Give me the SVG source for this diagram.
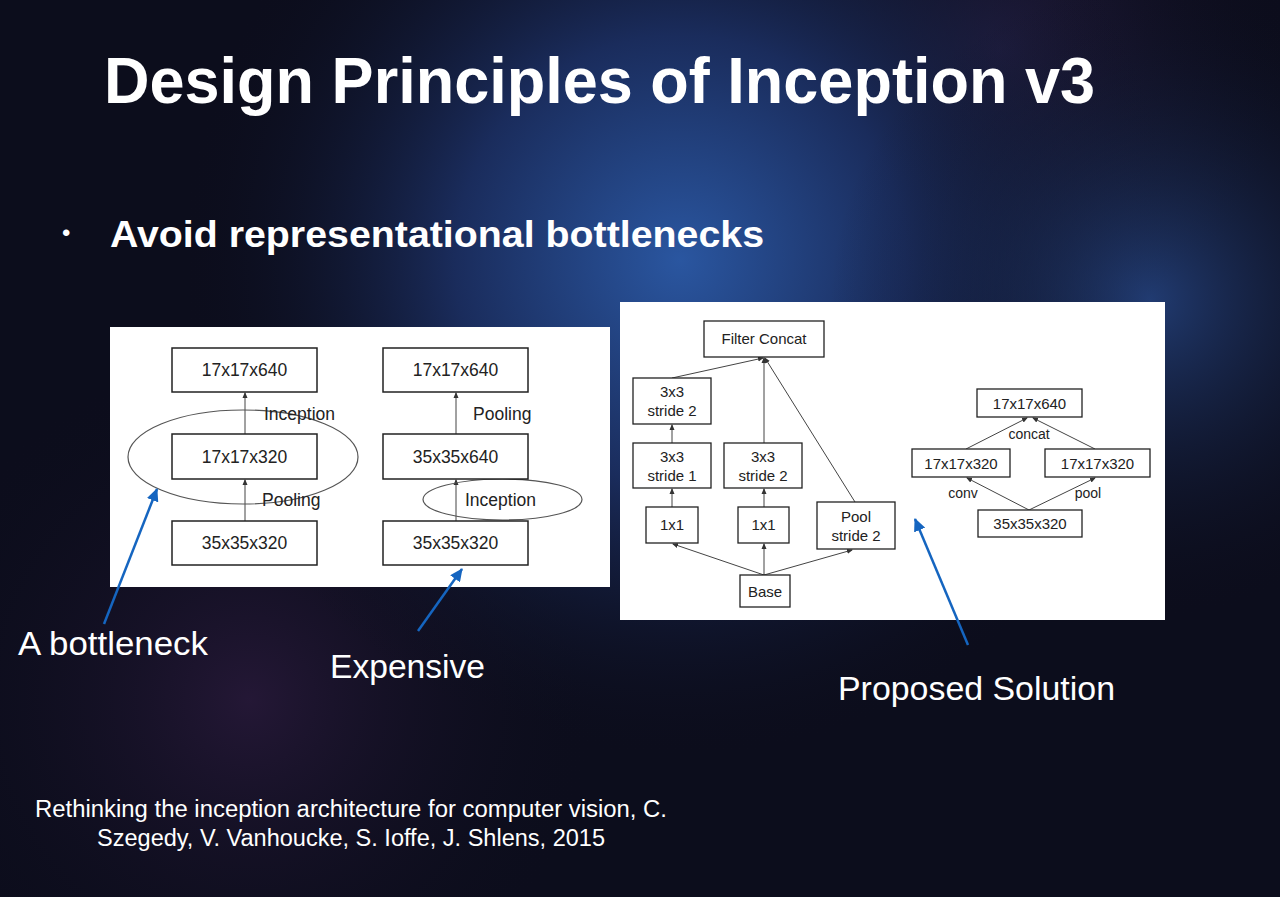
<svg xmlns="http://www.w3.org/2000/svg" width="1280" height="897" viewBox="0 0 1280 897">
<defs>
<radialGradient id="g1" cx="680" cy="260" r="500" gradientUnits="userSpaceOnUse">
<stop offset="0" stop-color="#2a56a0"/>
<stop offset="0.45" stop-color="#1a2c5c"/>
<stop offset="1" stop-color="#0c0d1c" stop-opacity="0"/>
</radialGradient>
<radialGradient id="g2" cx="1150" cy="300" r="320" gradientUnits="userSpaceOnUse">
<stop offset="0" stop-color="#2a4f96" stop-opacity="0.7"/>
<stop offset="1" stop-color="#0c0d1c" stop-opacity="0"/>
</radialGradient>
<radialGradient id="g3" cx="250" cy="700" r="350" gradientUnits="userSpaceOnUse">
<stop offset="0" stop-color="#2a1a3c" stop-opacity="0.8"/>
<stop offset="1" stop-color="#0c0d1c" stop-opacity="0"/>
</radialGradient>
<radialGradient id="g4" cx="1000" cy="50" r="300" gradientUnits="userSpaceOnUse">
<stop offset="0" stop-color="#2e2450" stop-opacity="0.7"/>
<stop offset="1" stop-color="#0c0d1c" stop-opacity="0"/>
</radialGradient>
<marker id="ah" markerWidth="6" markerHeight="6" refX="5" refY="3" orient="auto" markerUnits="userSpaceOnUse">
<path d="M0,0.5 L6,3 L0,5.5 z" fill="#333"/>
</marker>
<marker id="bh" markerWidth="14" markerHeight="12" refX="12" refY="6" orient="auto" markerUnits="userSpaceOnUse">
<path d="M0,0 L13,6 L0,12 z" fill="#1565c0"/>
</marker>
<style>
.box{fill:#fff;stroke:#222;stroke-width:1.5}
.sbox{fill:#fff;stroke:#222;stroke-width:1.3}
.t{font-family:"Liberation Sans",Arial,sans-serif;fill:#222;text-anchor:middle}
.s{text-anchor:start}
.big{font-size:17.5px}
.sm{font-size:15px}
.xs{font-size:14px}
.ln{stroke:#444;stroke-width:1;fill:none;marker-end:url(#ah)}
.ell{fill:none;stroke:#555;stroke-width:1.2}
.blue{stroke:#1565c0;stroke-width:2.5;fill:none;marker-end:url(#bh)}
.w{font-family:"Liberation Sans",Arial,sans-serif;fill:#fff}
</style>
</defs>
<rect width="1280" height="897" fill="#0c0d1c"/>
<rect width="1280" height="897" fill="url(#g3)"/>
<rect width="1280" height="897" fill="url(#g4)"/>
<rect width="1280" height="897" fill="url(#g1)"/>
<rect width="1280" height="897" fill="url(#g2)"/>

<text class="w" x="104" y="103" font-size="64" font-weight="bold" textLength="991" lengthAdjust="spacingAndGlyphs">Design Principles of Inception v3</text>
<text class="w" x="62" y="241" font-size="24">•</text>
<text class="w" x="110" y="247" font-size="37" font-weight="bold" textLength="654" lengthAdjust="spacingAndGlyphs">Avoid representational bottlenecks</text>

<rect x="110" y="327" width="500" height="260" fill="#fff"/>
<rect x="620" y="302" width="545" height="318" fill="#fff"/>

<g id="connectors">
<line class="ln" x1="245" y1="521" x2="245" y2="480"/>
<line class="ln" x1="245" y1="434" x2="245" y2="393"/>
<line class="ln" x1="456" y1="521" x2="456" y2="480"/>
<line class="ln" x1="456" y1="434" x2="456" y2="393"/>
<ellipse class="ell" cx="243" cy="457" rx="115" ry="47"/>
<ellipse class="ell" cx="502.5" cy="499.5" rx="79.5" ry="20.5"/>
<line class="ln" x1="764" y1="575" x2="673" y2="544"/>
<line class="ln" x1="764" y1="575" x2="764" y2="544"/>
<line class="ln" x1="764" y1="575" x2="852" y2="550"/>
<line class="ln" x1="672" y1="507" x2="672" y2="489"/>
<line class="ln" x1="672" y1="443" x2="672" y2="425"/>
<line class="ln" x1="764" y1="507" x2="764" y2="489"/>
<line class="ln" x1="672" y1="378" x2="763" y2="358"/>
<line class="ln" x1="764" y1="443" x2="764" y2="358"/>
<line class="ln" x1="855" y1="502" x2="765" y2="358"/>
<line class="ln" x1="1029" y1="510" x2="967" y2="478"/>
<line class="ln" x1="1029" y1="510" x2="1095" y2="478"/>
<line class="ln" x1="966" y1="449" x2="1027" y2="418"/>
<line class="ln" x1="1095" y1="449" x2="1033" y2="418"/>
<line class="blue" x1="104" y1="624" x2="157" y2="489"/>
<line class="blue" x1="418" y1="631" x2="462" y2="569"/>
<line class="blue" x1="968" y1="645" x2="915" y2="519"/>
</g>

<text class="t big s" x="264" y="420">Inception</text>
<text class="t big s" x="262" y="506">Pooling</text>
<text class="t big s" x="473" y="420">Pooling</text>
<text class="t big s" x="465" y="506">Inception</text>

<g id="n-l-top"><rect class="box" x="172" y="348" width="145" height="44"/><text class="t big" x="244.5" y="376">17x17x640</text></g>
<g id="n-l-mid"><rect class="box" x="172" y="434" width="145" height="45"/><text class="t big" x="244.5" y="463">17x17x320</text></g>
<g id="n-l-bot"><rect class="box" x="172" y="521" width="145" height="44"/><text class="t big" x="244.5" y="549">35x35x320</text></g>
<g id="n-r-top"><rect class="box" x="383" y="348" width="145" height="44"/><text class="t big" x="455.5" y="376">17x17x640</text></g>
<g id="n-r-mid"><rect class="box" x="383" y="434" width="145" height="45"/><text class="t big" x="455.5" y="463">35x35x640</text></g>
<g id="n-r-bot"><rect class="box" x="383" y="521" width="145" height="44"/><text class="t big" x="455.5" y="549">35x35x320</text></g>

<g id="n-concat"><rect class="sbox" x="704" y="321" width="120" height="36"/><text class="t sm" x="764" y="344">Filter Concat</text></g>
<g id="n-3s2a"><rect class="sbox" x="633" y="378" width="78" height="46"/><text class="t sm" x="672" y="397">3x3</text><text class="t sm" x="672" y="416">stride 2</text></g>
<g id="n-3s1"><rect class="sbox" x="633" y="443" width="78" height="45"/><text class="t sm" x="672" y="462">3x3</text><text class="t sm" x="672" y="481">stride 1</text></g>
<g id="n-3s2b"><rect class="sbox" x="724" y="443" width="78" height="45"/><text class="t sm" x="763" y="462">3x3</text><text class="t sm" x="763" y="481">stride 2</text></g>
<g id="n-1x1a"><rect class="sbox" x="646" y="507" width="52" height="36"/><text class="t sm" x="672" y="530">1x1</text></g>
<g id="n-1x1b"><rect class="sbox" x="738" y="507" width="51" height="36"/><text class="t sm" x="763.5" y="530">1x1</text></g>
<g id="n-pool"><rect class="sbox" x="817" y="502" width="78" height="47"/><text class="t sm" x="856" y="522">Pool</text><text class="t sm" x="856" y="541">stride 2</text></g>
<g id="n-base"><rect class="sbox" x="740" y="575" width="50" height="32"/><text class="t sm" x="765" y="597">Base</text></g>

<g id="n-s-top"><rect class="sbox" x="977" y="389" width="105" height="28"/><text class="t sm" x="1029.5" y="409">17x17x640</text></g>
<g id="n-s-l"><rect class="sbox" x="912" y="449" width="98" height="28"/><text class="t sm" x="961" y="469">17x17x320</text></g>
<g id="n-s-r"><rect class="sbox" x="1045" y="449" width="105" height="28"/><text class="t sm" x="1097.5" y="469">17x17x320</text></g>
<g id="n-s-bot"><rect class="sbox" x="978" y="510" width="104" height="27"/><text class="t sm" x="1030" y="529">35x35x320</text></g>
<text class="t xs" x="1029" y="439">concat</text>
<text class="t xs" x="963" y="498">conv</text>
<text class="t xs" x="1088" y="498">pool</text>

<text class="w" x="18" y="655" font-size="34" textLength="190" lengthAdjust="spacingAndGlyphs">A bottleneck</text>
<text class="w" x="330" y="678" font-size="34" textLength="155" lengthAdjust="spacingAndGlyphs">Expensive</text>
<text class="w" x="838" y="700" font-size="34" textLength="277" lengthAdjust="spacingAndGlyphs">Proposed Solution</text>

<text class="w" x="35" y="817" font-size="23" textLength="632" lengthAdjust="spacingAndGlyphs">Rethinking the inception architecture for computer vision, C.</text>
<text class="w" x="97" y="846" font-size="23" textLength="508" lengthAdjust="spacingAndGlyphs">Szegedy, V. Vanhoucke, S. Ioffe, J. Shlens, 2015</text>
</svg>
